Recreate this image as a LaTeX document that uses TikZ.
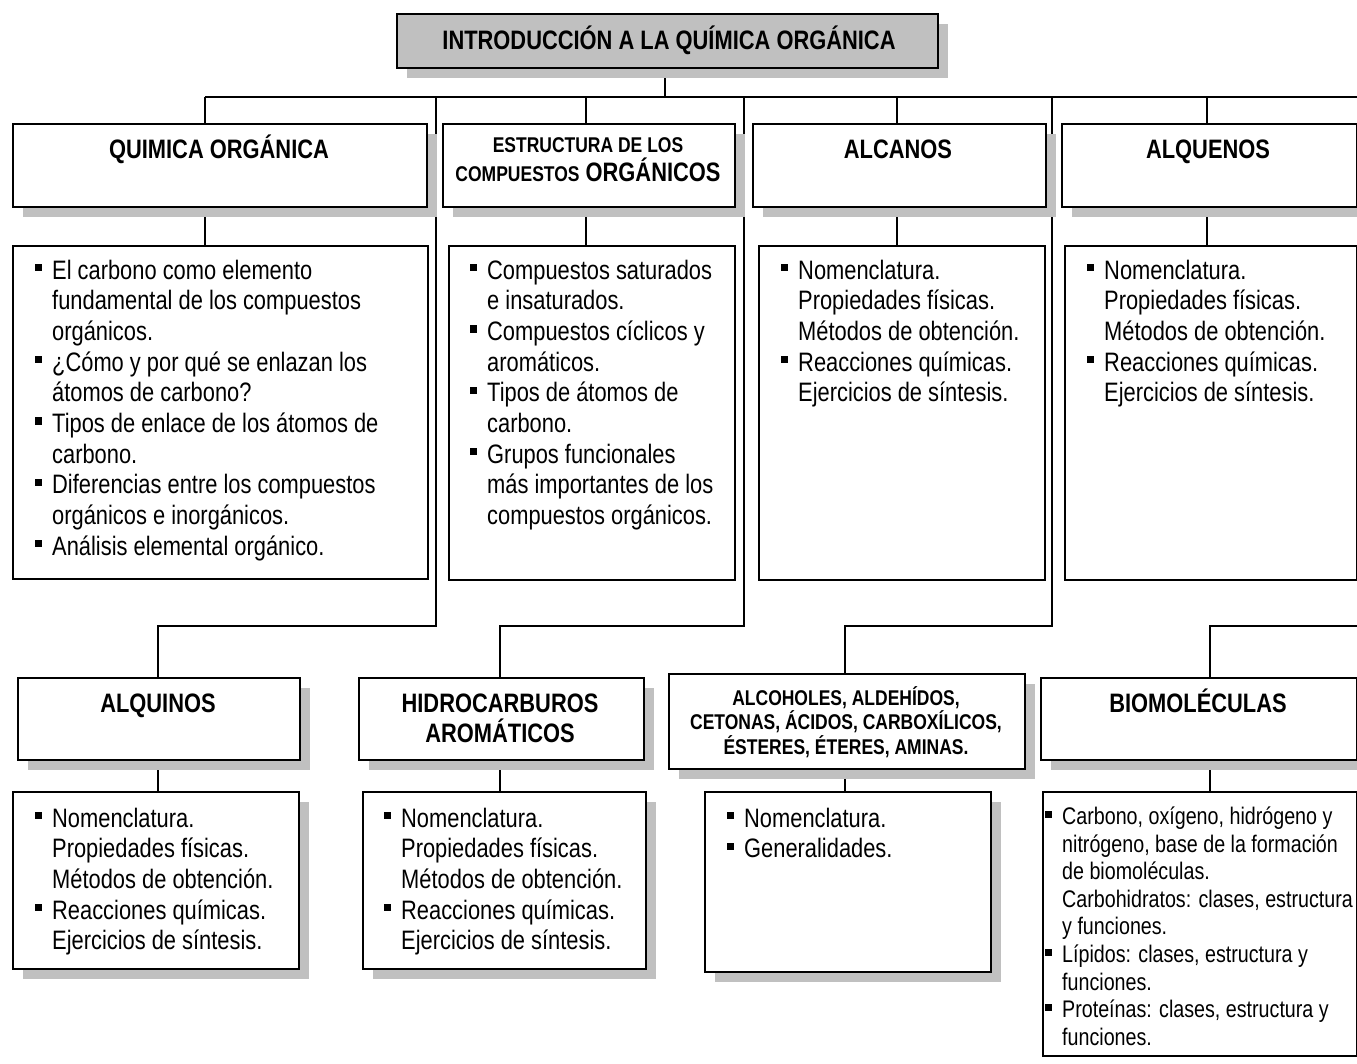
\documentclass[tikz,border=0pt]{standalone}
\usepackage{fontspec}
\setmainfont{Liberation Sans}[FakeStretch=0.82]
\usetikzlibrary{shadows}
\definecolor{shade}{HTML}{C0C0C0}
\newcommand\fbig{\fontsize{26.67}{30.67}\selectfont}
\newcommand\fmid{\fontsize{21.33}{24.5}\selectfont}
\newcommand\fbio{\fontsize{24}{27.6}\selectfont}
\newcommand\bul{\strut\makebox[0pt][r]{\rule[8pt]{7.2pt}{7.2pt}\hspace{10.5pt}}}
\newcommand\bulb{\strut\makebox[0pt][r]{\rule[7pt]{6.6pt}{6.6pt}\hspace{10.5pt}}}
\newcommand\il{\strut}
\newcommand\hdline[1]{\strut\smash{#1}}
\pgfdeclarelayer{bg}
\pgfsetlayers{bg,main}
\begin{document}
\begin{tikzpicture}[x=1pt,y=-1pt,
  box/.style={draw, line width=2.4pt, fill=white, inner sep=0pt, anchor=north west},
  shbox/.style={box, drop shadow={shadow xshift=10pt, shadow yshift=-10pt, fill=shade, opacity=1}},
  link/.style={line width=2pt},
  hd/.style={font=\fbig\bfseries, inner sep=0pt, anchor=base},
  body/.style={font=\fbig, inner sep=0pt, anchor=north west, align=left},
]
\useasboundingbox (0,0) rectangle (1357,1064);

% boxes
\node[shbox, fill=shade, minimum width=541pt, minimum height=54pt] (T) at (396,13) {};
\node[shbox, minimum width=414pt, minimum height=83pt] (h1) at (12,123) {};
\node[shbox, minimum width=292pt, minimum height=83pt] (h2) at (442,123) {};
\node[shbox, minimum width=293pt, minimum height=83pt] (h3) at (752,123) {};
\node[shbox, minimum width=295pt, minimum height=83pt] (h4) at (1061,123) {};
\node[box, minimum width=415pt, minimum height=333pt] (d1) at (12,245) {};
\node[box, minimum width=286pt, minimum height=334pt] (d2) at (448,245) {};
\node[box, minimum width=286pt, minimum height=334pt] (d3) at (758,245) {};
\node[box, minimum width=292pt, minimum height=334pt] (d4) at (1064,245) {};
\node[shbox, minimum width=282pt, minimum height=82pt] (h5) at (17,677) {};
\node[shbox, minimum width=285pt, minimum height=82pt] (h6) at (358,677) {};
\node[shbox, minimum width=356pt, minimum height=95pt] (h7) at (668,673) {};
\node[shbox, minimum width=316pt, minimum height=82pt] (h8) at (1040,677) {};
\node[shbox, minimum width=286pt, minimum height=177pt] (d5) at (12,791) {};
\node[shbox, minimum width=283pt, minimum height=177pt] (d6) at (362,791) {};
\node[shbox, minimum width=286pt, minimum height=180pt] (d7) at (704,791) {};
\node[box, minimum width=314pt, minimum height=264pt] (d8) at (1042,791) {};

% header texts
\node[hd] (tT) at (669,49.5) {INTRODUCCIÓN A LA QUÍMICA ORGÁNICA};
\node[hd] (t1) at (219,159) {QUIMICA ORGÁNICA};
\node[hd, font=\fmid\bfseries] (t2a) at (588,152.5) {ESTRUCTURA DE LOS};
\node[hd] (t2b) at (588,182) {{\fmid COMPUESTOS} ORGÁNICOS};
\node[hd] (t3) at (898,159) {ALCANOS};
\node[hd] (t4) at (1208,159) {ALQUENOS};
\node[hd] (t5) at (158,712) {ALQUINOS};
\node[hd, anchor=north, align=center] (t6) at (500,690.5) {\hdline{HIDROCARBUROS}\\\hdline{AROMÁTICOS}};
\node[hd, font=\fmid\bfseries, anchor=north, align=center] (t7) at (846,688) {\hdline{ALCOHOLES, ALDEHÍDOS,}\\\hdline{CETONAS, ÁCIDOS, CARBOXÍLICOS,}\\\hdline{ÉSTERES, ÉTERES, AMINAS.}};
\node[hd] (t8) at (1198,712) {BIOMOLÉCULAS};

% body texts
\node[body] (b1) at (52,257.5) {\bul El carbono como elemento\\
\il fundamental de los compuestos\\
\il orgánicos.\\
\bul ¿Cómo y por qué se enlazan los\\
\il átomos de carbono?\\
\bul Tipos de enlace de los átomos de\\
\il carbono.\\
\bul Diferencias entre los compuestos\\
\il orgánicos e inorgánicos.\\
\bul Análisis elemental orgánico.};
\node[body] (b2) at (487,257.5) {\bul Compuestos saturados\\
\il e insaturados.\\
\bul Compuestos cíclicos y\\
\il aromáticos.\\
\bul Tipos de átomos de\\
\il carbono.\\
\bul Grupos funcionales\\
\il más importantes de los\\
\il compuestos orgánicos.};
\node[body] (b3) at (798,257.5) {\bul Nomenclatura.\\
\il Propiedades físicas.\\
\il Métodos de obtención.\\
\bul Reacciones químicas.\\
\il Ejercicios de síntesis.};
\node[body] (b4) at (1104,257.5) {\bul Nomenclatura.\\
\il Propiedades físicas.\\
\il Métodos de obtención.\\
\bul Reacciones químicas.\\
\il Ejercicios de síntesis.};
\node[body] (b5) at (52,805.5) {\bul Nomenclatura.\\
\il Propiedades físicas.\\
\il Métodos de obtención.\\
\bul Reacciones químicas.\\
\il Ejercicios de síntesis.};
\node[body] (b6) at (401,805.5) {\bul Nomenclatura.\\
\il Propiedades físicas.\\
\il Métodos de obtención.\\
\bul Reacciones químicas.\\
\il Ejercicios de síntesis.};
\node[body] (b7) at (744,805.5) {\bul Nomenclatura.\\
\bul Generalidades.};
\node[body, font=\fbio] (b8) at (1062,805) {\bulb Carbono, oxígeno, hidrógeno y\\
\il nitrógeno, base de la formación\\
\il de biomoléculas.\\
\il Carbohidratos: clases, estructura\\
\il y funciones.\\
\bulb Lípidos: clases, estructura y\\
\il funciones.\\
\bulb Proteínas: clases, estructura y\\
\il funciones.};

% connectors
\begin{pgfonlayer}{bg}
\coordinate (bL) at (205,97);
\coordinate (bR) at (1357,97);
\coordinate (tj) at (665,97);
\coordinate (j2) at (586,97);
\coordinate (j3) at (897,97);
\coordinate (j4) at (1207,97);
\coordinate (v1) at (436,97);
\coordinate (v2) at (744,97);
\coordinate (v3) at (1052,97);
\coordinate (w1) at (436,626);
\coordinate (w2) at (744,626);
\coordinate (w3) at (1052,626);
\coordinate (a1) at (158,626);
\coordinate (a2) at (500,626);
\coordinate (a3) at (845,626);
\coordinate (a4) at (1210,626);
\coordinate (e4) at (1357,626);
\draw[link] (bL) -- (bR);
\draw[link] (T.south -| tj) -- (tj);
\draw[link] (bL) -- (bL |- h1.north);
\draw[link] (j2) -- (j2 |- h2.north);
\draw[link] (j3) -- (j3 |- h3.north);
\draw[link] (j4) -- (j4 |- h4.north);
\draw[link] (h1.south -| bL) -- (d1.north -| bL);
\draw[link] (h2.south -| j2) -- (d2.north -| j2);
\draw[link] (h3.south -| j3) -- (d3.north -| j3);
\draw[link] (h4.south -| j4) -- (d4.north -| j4);
\draw[link] (v1) -- (w1) -- (a1) -- (a1 |- h5.north);
\draw[link] (v2) -- (w2) -- (a2) -- (a2 |- h6.north);
\draw[link] (v3) -- (w3) -- (a3) -- (a3 |- h7.north);
\draw[link] (e4) -- (a4) -- (a4 |- h8.north);
\draw[link] (h5.south -| a1) -- (d5.north -| a1);
\draw[link] (h6.south -| a2) -- (d6.north -| a2);
\draw[link] (h7.south -| a3) -- (d7.north -| a3);
\draw[link] (h8.south -| a4) -- (d8.north -| a4);
\end{pgfonlayer}
\end{tikzpicture}
\end{document}
